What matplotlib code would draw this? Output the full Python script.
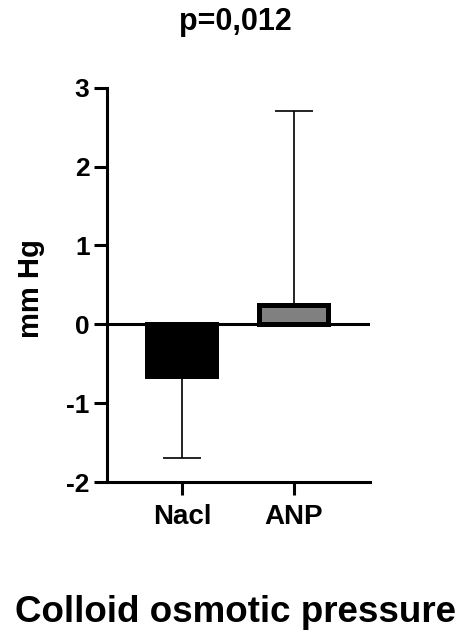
import matplotlib
matplotlib.use("Agg")
import matplotlib.pyplot as plt
import numpy as np

plt.rcParams['font.family'] = ['Liberation Sans', 'DejaVu Sans']
plt.rcParams['font.weight'] = 'bold'

groups = ['Nacl', 'ANP']
means = [-0.66, 0.25]
err_low = [1.04, 0.0]
err_high = [0.0, 2.46]
fills = ['black', '#808080']
y_ticks = [-2, -1, 0, 1, 2, 3]

fig = plt.figure(figsize=(4.67, 6.37), dpi=100)
ax = fig.add_axes([0.229, 0.2433, 0.563, 0.619])

x = np.arange(len(groups))
ax.errorbar(x, means, yerr=[err_low, err_high], fmt='none', ecolor='black',
            elinewidth=1.2, capsize=14, capthick=1.2, zorder=1)
ax.bar(x, means, 0.615, color=fills, edgecolor='black', linewidth=3.6, zorder=2)
ax.axhline(0, color='black', linewidth=2.2, zorder=3)

ax.set_xlim(-0.67, 1.68)
ax.set_ylim(-2, 3)
ax.set_yticks(y_ticks)
ax.set_xticks(x)
ax.set_xticklabels(groups, fontsize=20, fontweight='bold')
ax.set_yticklabels([str(t) for t in y_ticks], fontsize=19, fontweight='bold')
ax.set_ylabel('mm Hg', fontsize=21, fontweight='bold')
ax.yaxis.set_label_coords(-0.235, 0.49)

for s in ['top', 'right']:
    ax.spines[s].set_visible(False)
for s in ['left', 'bottom']:
    ax.spines[s].set_linewidth(2.2)
ax.tick_params(axis='both', length=9.5, width=2.2, color='black')
ax.tick_params(axis='y', pad=3)
ax.tick_params(axis='x', pad=6)

fig.text(0.505, 1 - 22 / 637, 'p=0,012', ha='center', va='center',
         fontsize=22, fontweight='bold')
fig.text(0.505, 1 - 612 / 637, 'Colloid osmotic pressure', ha='center',
         va='center', fontsize=26.5, fontweight='bold')

fig.savefig('out.png', dpi=100)
